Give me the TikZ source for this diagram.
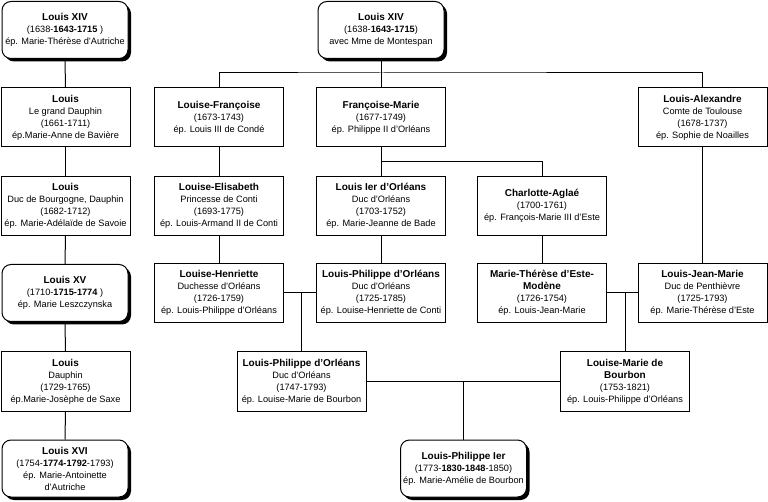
\documentclass[tikz,border=0pt]{standalone}
\usepackage{fontspec}
\setmainfont{Liberation Sans}
\usetikzlibrary{shadows}
\newcommand\fs{\fontsize{9.2}{12}\selectfont}
\newcommand\nm[1]{{\fontsize{10}{12}\selectfont\bfseries #1}}
\tikzset{
  person/.style={draw, line width=1pt, fill=white, minimum width=129pt, minimum height=59pt, align=center, inner sep=0pt, font=\fs},
  king/.style={person, rounded corners=9pt, minimum width=126pt, minimum height=57pt,
     general shadow={fill=black, shadow xshift=3pt, shadow yshift=-3pt}},
  link/.style={line width=1pt}
}
\begin{document}
\begin{tikzpicture}[x=1pt, y=-1pt]
\useasboundingbox (0,0) rectangle (768,502);
% left column
\node[king]   (a1) at (65,30)    {\nm{Louis XIV}\\(1638-\textbf{1643-1715} )\\ép. Marie-Thérèse d'Autriche};
\node[person] (a2) at (65.5,117.5) {\nm{Louis}\\Le grand Dauphin\\(1661-1711)\\ép.Marie-Anne de Bavière};
\node[person] (a3) at (65.5,206)   {\nm{Louis}\\Duc de Bourgogne, Dauphin\\(1682-1712)\\ép. Marie-Adélaïde de Savoie};
\node[king]   (a4) at (65,293)   {\nm{Louis XV}\\(1710-\textbf{1715-1774} )\\ép. Marie Leszczynska};
\node[person] (a5) at (65.5,381.5) {\nm{Louis}\\Dauphin\\(1729-1765)\\ép.Marie-Josèphe de Saxe};
\node[king]   (a6) at (65,468.5) {\nm{Louis XVI}\\(1754-\textbf{1774-1792}-1793)\\ép. Marie-Antoinette\\d'Autriche};
% Montespan branch
\node[king]   (b1) at (381,30)    {\nm{Louis XIV}\\(1638-\textbf{1643-1715})\\avec Mme de Montespan};
\node[person] (b2) at (219,117.5) {\nm{Louise-Françoise}\\(1673-1743)\\ép. Louis III de Condé};
\node[person] (b3) at (219,206)   {\nm{Louise-Elisabeth}\\Princesse de Conti\\(1693-1775)\\ép. Louis-Armand II de Conti};
\node[person] (b4) at (219,293)   {\nm{Louise-Henriette}\\Duchesse d'Orléans\\(1726-1759)\\ép. Louis-Philippe d'Orléans};
\node[person] (c2) at (381,117.5) {\nm{Françoise-Marie}\\(1677-1749)\\ép. Philippe II d'Orléans};
\node[person] (c3) at (381,206)   {\nm{Louis Ier d'Orléans}\\Duc d'Orléans\\(1703-1752)\\ép. Marie-Jeanne de Bade};
\node[person] (c4) at (381,293)   {\nm{Louis-Philippe d'Orléans}\\Duc d'Orléans\\(1725-1785)\\ép. Louise-Henriette de Conti};
\node[person] (d3) at (542,206)   {\nm{Charlotte-Aglaé}\\(1700-1761)\\ép. François-Marie III d'Este};
\node[person] (d4) at (542,293)   {\nm{Marie-Thérèse d'Este-}\\\nm{Modène}\\(1726-1754)\\ép. Louis-Jean-Marie};
\node[person] (e2) at (702.5,117.5) {\nm{Louis-Alexandre}\\Comte de Toulouse\\(1678-1737)\\ép. Sophie de Noailles};
\node[person] (e4) at (702.5,293)   {\nm{Louis-Jean-Marie}\\Duc de Penthièvre\\(1725-1793)\\ép. Marie-Thérèse d'Este};
\node[person] (f)  at (301.5,381.5) {\nm{Louis-Philippe d'Orléans}\\Duc d'Orléans\\(1747-1793)\\ép. Louise-Marie de Bourbon};
\node[person] (g)  at (625,381.5)   {\nm{Louise-Marie de}\\\nm{Bourbon}\\(1753-1821)\\ép. Louis-Philippe d'Orléans};
\node[king]   (h)  at (463.5,468.5) {\nm{Louis-Philippe Ier}\\(1773-\textbf{1830-1848}-1850)\\ép. Marie-Amélie de Bourbon};
% coordinates
\coordinate (bar) at (381,73);
\coordinate (cfork) at (381,162);
\coordinate (j1) at (301.5,293);
\coordinate (j2) at (625,293);
\coordinate (j3) at (463.5,381.5);
% connectors
\draw[link] (a1) -- (a2);
\draw[link] (a2) -- (a3);
\draw[link] (a3) -- (a4);
\draw[link] (a4) -- (a5);
\draw[link] (a5) -- (a6);
\draw[link] (b1) -- (c2);
\draw[link] (b2.north) |- (bar) -| (e2.north);
\draw[link] (b2) -- (b3);
\draw[link] (b3) -- (b4);
\draw[link] (c2) -- (c3);
\draw[link] (cfork) -| (d3.north);
\draw[link] (c3) -- (c4);
\draw[link] (d3) -- (d4);
\draw[link] (e2) -- (e4);
\draw[link] (b4) -- (c4);
\draw[link] (j1) -- (f.north);
\draw[link] (d4) -- (e4);
\draw[link] (j2) -- (g.north);
\draw[link] (f) -- (g);
\draw[link] (j3) -- (h.north);
\end{tikzpicture}
\end{document}
